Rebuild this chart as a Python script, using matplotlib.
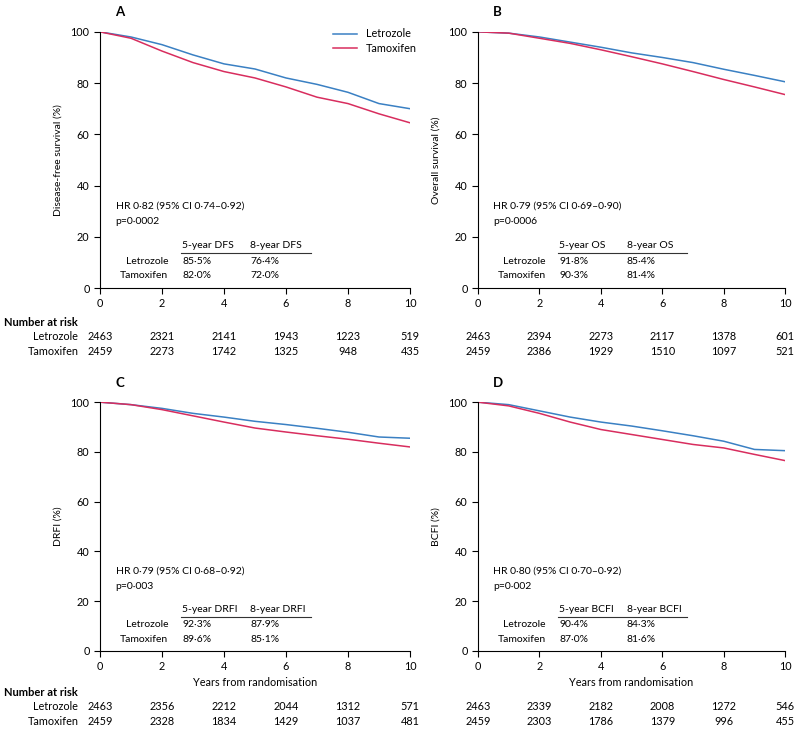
import numpy as np
import matplotlib.pyplot as plt

plt.rcParams['font.family'] = ['Lato', 'DejaVu Sans']

# curve values, one per year
years = [0, 1, 2, 3, 4, 5, 6, 7, 8, 9, 10]

dfs_let = [100, 98, 95, 91, 87.5, 85.5, 82, 79.5, 76.4, 72, 70]
dfs_tam = [100, 97.5, 92.5, 88, 84.5, 82, 78.5, 74.5, 72, 68, 64.5]
os_let = [100, 99.5, 98, 96, 94, 91.8, 90, 88, 85.4, 83, 80.5]
os_tam = [100, 99.5, 97.5, 95.5, 93, 90.3, 87.5, 84.5, 81.4, 78.5, 75.5]
drfi_let = [100, 99, 97.5, 95.5, 94, 92.3, 91, 89.5, 87.9, 86, 85.5]
drfi_tam = [100, 99, 97, 94.5, 92, 89.6, 88, 86.5, 85.1, 83.5, 82]
bcfi_let = [100, 99, 96.5, 94, 92, 90.4, 88.5, 86.5, 84.3, 81, 80.5]
bcfi_tam = [100, 98.5, 95.5, 92, 89, 87.0, 85, 83, 81.6, 79, 76.5]

risk_years = [0, 2, 4, 6, 8, 10]
risk_dfs = ([2463, 2321, 2141, 1943, 1223, 519], [2459, 2273, 1742, 1325, 948, 435])
risk_os = ([2463, 2394, 2273, 2117, 1378, 601], [2459, 2386, 1929, 1510, 1097, 521])
risk_drfi = ([2463, 2356, 2212, 2044, 1312, 571], [2459, 2328, 1834, 1429, 1037, 481])
risk_bcfi = ([2463, 2339, 2182, 2008, 1272, 546], [2459, 2303, 1786, 1379, 996, 455])

BLUE = '#3a80c3'
RED = '#d82d5e'
FS = 7.5

fig = plt.figure(figsize=(8, 7.34), dpi=100)


def panel(rect, letter, ylab, let, tam, hr, p, endpt, rates, risk, bottom_row, show_names, legend=False):
    ax = fig.add_axes(rect)
    ax.plot(years, let, color=BLUE, lw=1.1, label='Letrozole')
    ax.plot(years, tam, color=RED, lw=1.1, label='Tamoxifen')
    ax.set_xlim(0, 10)
    ax.set_ylim(0, 100)
    ax.set_xticks(range(0, 11, 2))
    ax.set_yticks(range(0, 101, 20))
    ax.spines['top'].set_visible(False)
    ax.spines['right'].set_visible(False)
    ax.tick_params(labelsize=FS + 0.3, length=4, width=0.8)
    ax.set_ylabel(ylab, fontsize=FS, labelpad=6)
    ax.text(0.05, 1.06, letter, transform=ax.transAxes, fontsize=9.5, fontweight='bold')
    if legend:
        ax.legend(loc='upper right', bbox_to_anchor=(1.04, 1.035), frameon=False,
                  fontsize=FS + 0.3, handlelength=2.2, borderpad=0, labelspacing=0.35)

    # HR box and 5/8-year table
    ax.text(0.5, 32, hr, fontsize=FS, va='center')
    ax.text(0.5, 26, p, fontsize=FS, va='center')
    ax.text(2.65, 16.5, '5-year ' + endpt, fontsize=FS, va='center')
    ax.text(4.85, 16.5, '8-year ' + endpt, fontsize=FS, va='center')
    ax.plot([2.6, 6.8], [13.8, 13.8], color='#333333', lw=0.8)
    ax.text(2.2, 10.5, 'Letrozole', fontsize=FS, va='center', ha='right')
    ax.text(2.2, 4.8, 'Tamoxifen', fontsize=FS, va='center', ha='right')
    ax.text(2.65, 10.5, rates[0], fontsize=FS, va='center')
    ax.text(4.85, 10.5, rates[1], fontsize=FS, va='center')
    ax.text(2.65, 4.8, rates[2], fontsize=FS, va='center')
    ax.text(4.85, 4.8, rates[3], fontsize=FS, va='center')

    # number at risk
    tr = ax.get_xaxis_transform()
    if bottom_row:
        ax.set_xlabel('Years from randomisation', fontsize=FS + 0.3, labelpad=3)
        y0, y1, y2 = -0.165, -0.225, -0.285
    else:
        y0, y1, y2 = -0.133, -0.19, -0.246
    for x, a, b in zip(risk_years, risk[0], risk[1]):
        ax.text(x, y1, str(a), transform=tr, fontsize=FS + 0.3, ha='center', va='center')
        ax.text(x, y2, str(b), transform=tr, fontsize=FS + 0.3, ha='center', va='center')
    if show_names:
        ax.text(-3.1, y0, 'Number at risk', transform=tr, fontsize=FS + 0.5, fontweight='bold', va='center')
        ax.text(-0.7, y1, 'Letrozole', transform=tr, fontsize=FS + 0.3, ha='right', va='center')
        ax.text(-0.7, y2, 'Tamoxifen', transform=tr, fontsize=FS + 0.3, ha='right', va='center')
    return ax


panel([0.125, 0.6076, 0.3875, 0.349], 'A', 'Disease-free survival (%)', dfs_let, dfs_tam,
      'HR 0·82 (95% CI 0·74–0·92)', 'p=0·0002', 'DFS',
      ['85·5%', '76·4%', '82·0%', '72·0%'], risk_dfs, False, True, legend=True)
panel([0.5975, 0.6076, 0.384, 0.349], 'B', 'Overall survival (%)', os_let, os_tam,
      'HR 0·79 (95% CI 0·69–0·90)', 'p=0·0006', 'OS',
      ['91·8%', '85·4%', '90·3%', '81·4%'], risk_os, False, False)
panel([0.125, 0.1131, 0.3875, 0.339], 'C', 'DRFI (%)', drfi_let, drfi_tam,
      'HR 0·79 (95% CI 0·68–0·92)', 'p=0·003', 'DRFI',
      ['92·3%', '87·9%', '89·6%', '85·1%'], risk_drfi, True, True)
panel([0.5975, 0.1131, 0.384, 0.339], 'D', 'BCFI (%)', bcfi_let, bcfi_tam,
      'HR 0·80 (95% CI 0·70–0·92)', 'p=0·002', 'BCFI',
      ['90·4%', '84·3%', '87·0%', '81·6%'], risk_bcfi, True, False)

fig.savefig('out.png', dpi=100)
